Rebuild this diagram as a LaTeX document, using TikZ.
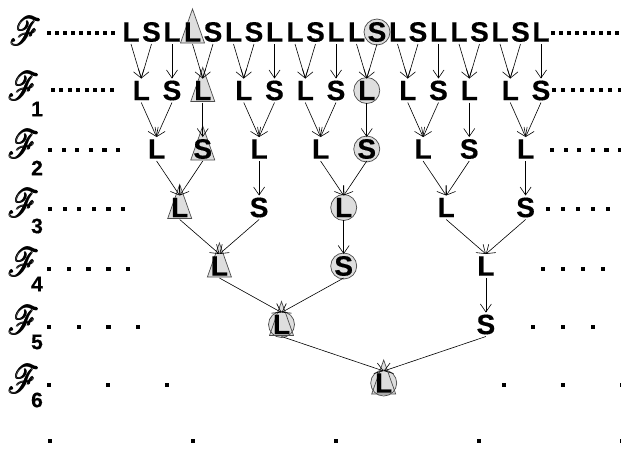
\documentclass[tikz,border=0pt]{standalone}
\usepackage{amsmath}
\usepackage{fontspec}
\setsansfont{Liberation Sans}
\newfontfamily\ltrfont{Liberation Sans}[UprightFont={* Bold}, FakeBold=0.4]
\usepackage{mathrsfs}
\usepackage{graphicx}
\usetikzlibrary{arrows.meta,calc,backgrounds}
\definecolor{shade}{gray}{0.87}
\definecolor{edge}{gray}{0.3}
\newcommand\famF{\scalebox{1.2}[1.6]{\fontsize{24.88}{25}\selectfont$\pmb{\mathscr{F}}$}}
\tikzset{
  ltr/.style={font=\fontsize{28}{28}\selectfont\ltrfont, inner sep=0pt, outer sep=0pt,
              minimum height=24pt, minimum width=14pt, text=black},
  arr/.style={-{Straight Barb[length=8pt,width=11pt]}, line width=0.6pt, black},
  shapefill/.style={fill=shade, draw=none},
  shapeline/.style={draw=edge, line width=0.7pt},
  famlbl/.style={inner sep=0pt},
  sublbl/.style={font=\fontsize{21}{21}\selectfont\ltrfont, inner sep=0pt},
}
\begin{document}
\begin{tikzpicture}[x=1pt,y=-1pt]
\useasboundingbox (0,0) rectangle (621,448);

% row labels
\node[famlbl] (F0) at (26,31) {\famF};
\foreach \k/\y/\sy in {1/86/109, 2/144/168, 3/203/226, 4/262/284, 5/320/342, 6/379/400} {
  \node[famlbl] (F\k) at (24,\y) {\famF};
  \node[sublbl] (n\k) at (37,\sy) {\k};
}

% letters
\foreach \c [count=\i] in {L,S,L,L,S,L,S,L,L,S,L,L,S,L,S,L,L,S,L,S,L}
  \node[ltr] (t\i) at ({131+(\i-1)*20.5},32) {\c};
\foreach \c/\x [count=\i] in {L/141.25,S/172,L/202.75,L/243.75,S/274.5,L/305.25,S/336,L/366.75,L/407.75,S/438.5,L/469.25,L/510.25,S/541}
  \node[ltr] (a\i) at (\x,90.5) {\c};
\foreach \c/\x [count=\i] in {L/156.6,S/202.75,L/259.1,L/320.6,S/366.75,L/423.1,S/469.25,L/525.6}
  \node[ltr] (b\i) at (\x,149) {\c};
\foreach \c/\x [count=\i] in {L/179.7,S/259.1,L/343.7,L/446.2,S/525.6}
  \node[ltr] (c\i) at (\x,207.5) {\c};
\foreach \c/\x [count=\i] in {L/219.4,S/343.7,L/485.9}
  \node[ltr] (d\i) at (\x,266) {\c};
\foreach \c/\x [count=\i] in {L/281.5,S/485.9}
  \node[ltr] (e\i) at (\x,324.5) {\c};
\node[ltr] (f1) at (383.7,383) {L};

% highlight shapes
\begin{scope}[on background layer]
  \foreach \n in {t13,a8,b5,c3,d2,e1,f1} \fill[shapefill] (\n) circle (13);
  \foreach \n in {t4,a3,b2,c1,d1,e1,f1}
    \fill[shapefill] ($(\n)+(-12,11)$) -- ($(\n)+(0,-23)$) -- ($(\n)+(12,11)$) -- cycle;
  \foreach \n in {t13,a8,b5,c3,d2,e1,f1} \draw[shapeline] (\n) circle (13);
  \foreach \n in {t4,a3,b2,c1,d1,e1,f1}
    \draw[shapeline] ($(\n)+(-12,11)$) -- ($(\n)+(0,-23)$) -- ($(\n)+(12,11)$) -- cycle;
\end{scope}

% connectors
\foreach \p/\q in {t1/a1,t2/a1,t3/a2,t4/a3,t5/a3,t6/a4,t7/a4,t8/a5,t9/a6,t10/a6,t11/a7,
    t12/a8,t13/a8,t14/a9,t15/a9,t16/a10,t17/a11,t18/a11,t19/a12,t20/a12,t21/a13,
    a1/b1,a2/b1,a3/b2,a4/b3,a5/b3,a6/b4,a7/b4,a8/b5,a9/b6,a10/b6,a11/b7,a12/b8,a13/b8,
    b1/c1,b2/c1,b3/c2,b4/c3,b5/c3,b6/c4,b7/c4,b8/c5,
    c1/d1,c2/d1,c3/d2,c4/d3,c5/d3,
    d1/e1,d2/e1,d3/e2,
    e1/f1,e2/f1}
  \draw[arr] (\p.south) -- (\q.north);

% dotted continuations
\foreach \y/\xa/\dx/\m/\s in {33/49/8/8/4, 33/553/8/8/4,
    90/53/8.4/7/4, 90/554/9.4/7/4,
    150/50/13.6/5/4.2, 150/552/13.6/5/4.2,
    209/50/14.6/5/4.2, 209/548/15/5/4.2,
    269/49/19.8/4/4.4, 269/543/20/4/4.4,
    327/49/29.7/3/4.4, 327/533/30/3/4.4,
    385/49/59/2/4.6, 385/504/59/2/4.6,
    441/50/143/4/4.8}
  \foreach \k in {0,...,\m}
    \fill ({\xa+\k*\dx-\s/2},{\y-\s/2}) rectangle ++(\s,\s);
\end{tikzpicture}
\end{document}
